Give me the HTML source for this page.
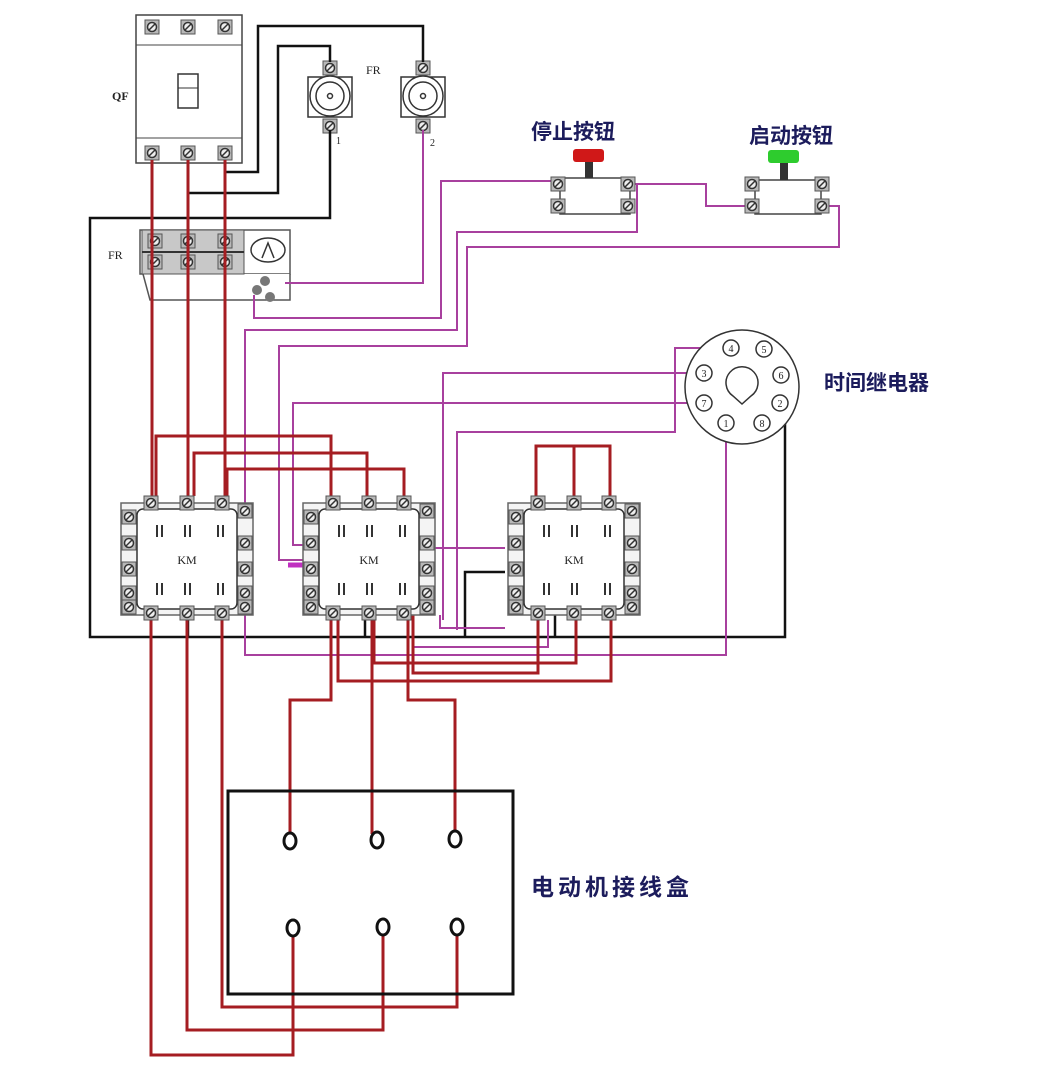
<!DOCTYPE html>
<html><head><meta charset="utf-8"><style>
html,body{margin:0;padding:0;background:#fff}
svg{display:block}
.lbl{font-family:"Liberation Sans","Noto Sans CJK SC",sans-serif;font-weight:bold;fill:#1c1c5c}
</style></head><body>
<svg width="1044" height="1078" viewBox="0 0 1044 1078" xmlns="http://www.w3.org/2000/svg">
<defs>
<g id="t"><rect x="-7" y="-7" width="14" height="14" fill="#b8b8b8" stroke="#555" stroke-width="1"/><circle r="4.5" fill="#eee" stroke="#333" stroke-width="1.5"/><line x1="-3" y1="3" x2="3" y2="-3" stroke="#333" stroke-width="1.5"/></g>
<g id="km">
<rect x="0" y="0" width="132" height="112" fill="#f4f4f4" stroke="#666" stroke-width="1.5"/>
<rect x="16" y="6" width="100" height="100" rx="6" fill="#fff" stroke="#333" stroke-width="1.5"/>
<use href="#t" x="30" y="0"/><use href="#t" x="66" y="0"/><use href="#t" x="101" y="0"/><use href="#t" x="124" y="8"/>
<use href="#t" x="30" y="110"/><use href="#t" x="66" y="110"/><use href="#t" x="101" y="110"/><use href="#t" x="124" y="104"/><use href="#t" x="8" y="104"/>
<use href="#t" x="8" y="14"/><use href="#t" x="8" y="40"/><use href="#t" x="8" y="66"/><use href="#t" x="8" y="90"/>
<use href="#t" x="124" y="40"/><use href="#t" x="124" y="66"/><use href="#t" x="124" y="90"/>
<g stroke="#333" stroke-width="2">
<line x1="36" y1="22" x2="36" y2="34"/><line x1="41" y1="22" x2="41" y2="34"/>
<line x1="64" y1="22" x2="64" y2="34"/><line x1="69" y1="22" x2="69" y2="34"/>
<line x1="97" y1="22" x2="97" y2="34"/><line x1="102" y1="22" x2="102" y2="34"/>
<line x1="36" y1="80" x2="36" y2="92"/><line x1="41" y1="80" x2="41" y2="92"/>
<line x1="64" y1="80" x2="64" y2="92"/><line x1="69" y1="80" x2="69" y2="92"/>
<line x1="97" y1="80" x2="97" y2="92"/><line x1="102" y1="80" x2="102" y2="92"/>
</g>
<text x="66" y="61" font-family="Liberation Serif,serif" font-size="12" text-anchor="middle" fill="#222">KM</text>
</g>
</defs>

<!-- QF breaker -->
<rect x="136" y="15" width="106" height="148" fill="#fff" stroke="#444" stroke-width="1.5"/>
<line x1="136" y1="45" x2="242" y2="45" stroke="#444"/><line x1="136" y1="138" x2="242" y2="138" stroke="#444"/>
<rect x="178" y="74" width="20" height="34" fill="#fff" stroke="#333" stroke-width="1.5"/><line x1="178" y1="88" x2="198" y2="88" stroke="#333"/>
<use href="#t" x="152" y="27"/><use href="#t" x="188" y="27"/><use href="#t" x="225" y="27"/>
<use href="#t" x="152" y="153"/><use href="#t" x="188" y="153"/><use href="#t" x="225" y="153"/>
<text x="112" y="100" font-family="Liberation Serif,serif" font-size="12" font-weight="bold" fill="#222">QF</text>

<!-- FR fuses -->
<g fill="#fff" stroke="#333" stroke-width="1.5">
<rect x="308" y="77" width="44" height="40"/><circle cx="330" cy="96" r="20"/><circle cx="330" cy="96" r="14"/><circle cx="330" cy="96" r="2.5"/>
<rect x="401" y="77" width="44" height="40"/><circle cx="423" cy="96" r="20"/><circle cx="423" cy="96" r="14"/><circle cx="423" cy="96" r="2.5"/>
</g>
<use href="#t" x="330" y="68"/><use href="#t" x="330" y="126"/><use href="#t" x="423" y="68"/><use href="#t" x="423" y="126"/>
<text x="366" y="74" font-family="Liberation Serif,serif" font-size="12" fill="#222">FR</text>
<text x="336" y="144" font-family="Liberation Serif,serif" font-size="10" fill="#222">1</text>
<text x="430" y="146" font-family="Liberation Serif,serif" font-size="10" fill="#222">2</text>

<!-- FR thermal relay -->
<rect x="140" y="230" width="150" height="44" fill="#fff" stroke="#555" stroke-width="1.5"/>
<path d="M143 274 L150 300 L290 300 L290 274" fill="#fff" stroke="#555" stroke-width="1.5"/>
<rect x="142" y="230" width="102" height="44" fill="#c8c8c8" stroke="#555"/>
<line x1="142" y1="252" x2="244" y2="252" stroke="#333" stroke-width="2"/>
<use href="#t" x="155" y="241"/><use href="#t" x="188" y="241"/><use href="#t" x="225" y="241"/>
<use href="#t" x="155" y="262"/><use href="#t" x="188" y="262"/><use href="#t" x="225" y="262"/>
<ellipse cx="268" cy="250" rx="17" ry="12" fill="#fff" stroke="#333" stroke-width="1.5"/>
<path d="M262 258 L268 243 L274 258" fill="none" stroke="#333" stroke-width="1.5"/>
<circle cx="257" cy="290" r="5" fill="#777"/><circle cx="265" cy="281" r="5" fill="#777"/><circle cx="270" cy="297" r="5" fill="#777"/>
<text x="108" y="259" font-family="Liberation Serif,serif" font-size="12" fill="#222">FR</text>

<!-- black wires -->
<g fill="none" stroke="#111" stroke-width="2.5">
<polyline points="225,172 258,172 258,26 423,26 423,62"/>
<polyline points="188,193 278,193 278,46 330,46 330,62"/>
<polyline points="330,130 330,218 90,218 90,637 785,637 785,404"/>
<polyline points="188,612 188,637"/><polyline points="365,612 365,637"/><polyline points="555,612 555,637"/>
<polyline points="465,637 465,572 505,572"/>
</g>

<!-- purple wires -->
<g fill="none" stroke="#a8409e" stroke-width="2">
<polyline points="423,130 423,283 285,283"/>
<polyline points="254,295 254,318 441,318 441,181 556,181"/>
<polyline points="625,184 706,184 706,206 750,206"/>
<polyline points="637,184 637,232 457,232 457,330 245,330 245,612"/>
<polyline points="820,206 839,206 839,247 467,247 467,346 279,346 279,560 305,560"/>
<polyline points="731,348 675,348 675,432 457,432 457,630"/>
<polyline points="702,373 443,373 443,620"/>
<polyline points="702,403 293,403 293,545 305,545"/>
<polyline points="726,431 726,655 245,655 245,615"/>
<polyline points="435,548 505,548"/>
<polyline points="440,615 440,628 505,628"/>
<polyline points="412,647 548,647 548,620"/>
</g>
<path d="M288 565 L305 565" stroke="#c030c0" stroke-width="5"/>

<!-- red wires -->
<g fill="none" stroke="#a51d22" stroke-width="3">
<line x1="152" y1="160" x2="152" y2="496"/><line x1="188" y1="160" x2="188" y2="496"/><line x1="225" y1="160" x2="225" y2="496"/>
<polyline points="156,496 156,436 331,436 331,496"/>
<polyline points="194,496 194,453 367,453 367,496"/>
<polyline points="227,496 227,469 404,469 404,496"/>
<polyline points="536,496 536,446 610,446 610,496"/><line x1="574" y1="446" x2="574" y2="496"/>
<polyline points="151,615 151,1055 293,1055 293,934"/>
<polyline points="187,615 187,1030 383,1030 383,933"/>
<polyline points="222,615 222,1007 457,1007 457,933"/>
<polyline points="331,615 331,700 290,700 290,834"/>
<polyline points="372,615 372,834"/>
<polyline points="408,615 408,700 455,700 455,832"/>
<polyline points="374,615 374,663 576,663 576,620"/>
<polyline points="338,615 338,681 611,681 611,620"/>
<polyline points="413,615 413,673 538,673 538,620"/>
</g>

<!-- KM contactors -->
<use href="#km" x="121" y="503"/>
<use href="#km" x="303" y="503"/>
<use href="#km" x="508" y="503"/>

<!-- buttons -->
<g fill="#fff" stroke="#444" stroke-width="1.5">
<rect x="560" y="178" width="70" height="36"/><rect x="755" y="180" width="66" height="34"/>
</g>
<rect x="573" y="149" width="31" height="13" rx="3" fill="#d01818"/>
<rect x="585" y="162" width="8" height="16" fill="#333"/>
<rect x="768" y="150" width="31" height="13" rx="3" fill="#2ecc2e"/>
<rect x="780" y="163" width="8" height="17" fill="#333"/>
<use href="#t" x="558" y="184"/><use href="#t" x="628" y="184"/><use href="#t" x="558" y="206"/><use href="#t" x="628" y="206"/>
<use href="#t" x="752" y="184"/><use href="#t" x="822" y="184"/><use href="#t" x="752" y="206"/><use href="#t" x="822" y="206"/>
<text class="lbl" x="531" y="139" font-size="21">停止按钮</text>
<text class="lbl" x="749" y="143" font-size="21">启动按钮</text>

<!-- time relay -->
<circle cx="742" cy="387" r="57" fill="#fff" stroke="#333" stroke-width="1.5"/>
<path d="M733 396 A16 16 0 1 1 751 396 L742 404 Z" fill="#fff" stroke="#333" stroke-width="1.5"/>
<g fill="#fff" stroke="#333" stroke-width="1.5">
<circle cx="731" cy="348" r="8"/><circle cx="764" cy="349" r="8"/><circle cx="704" cy="373" r="8"/><circle cx="781" cy="375" r="8"/>
<circle cx="704" cy="403" r="8"/><circle cx="780" cy="403" r="8"/><circle cx="726" cy="423" r="8"/><circle cx="762" cy="423" r="8"/>
</g>
<g font-family="Liberation Serif,serif" font-size="10" text-anchor="middle" fill="#222">
<text x="731" y="352">4</text><text x="764" y="353">5</text><text x="704" y="377">3</text><text x="781" y="379">6</text>
<text x="704" y="407">7</text><text x="780" y="407">2</text><text x="726" y="427">1</text><text x="762" y="427">8</text>
</g>
<text class="lbl" x="824" y="390" font-size="21">时间继电器</text>

<!-- motor box -->
<rect x="228" y="791" width="285" height="203" fill="none" stroke="#111" stroke-width="3"/>
<g fill="#fff" stroke="#111" stroke-width="3">
<ellipse cx="290" cy="841" rx="6" ry="8"/><ellipse cx="377" cy="840" rx="6" ry="8"/><ellipse cx="455" cy="839" rx="6" ry="8"/>
<ellipse cx="293" cy="928" rx="6" ry="8"/><ellipse cx="383" cy="927" rx="6" ry="8"/><ellipse cx="457" cy="927" rx="6" ry="8"/>
</g>
<text class="lbl" x="531" y="895" font-size="23" letter-spacing="4">电动机接线盒</text>
</svg>
</body></html>
